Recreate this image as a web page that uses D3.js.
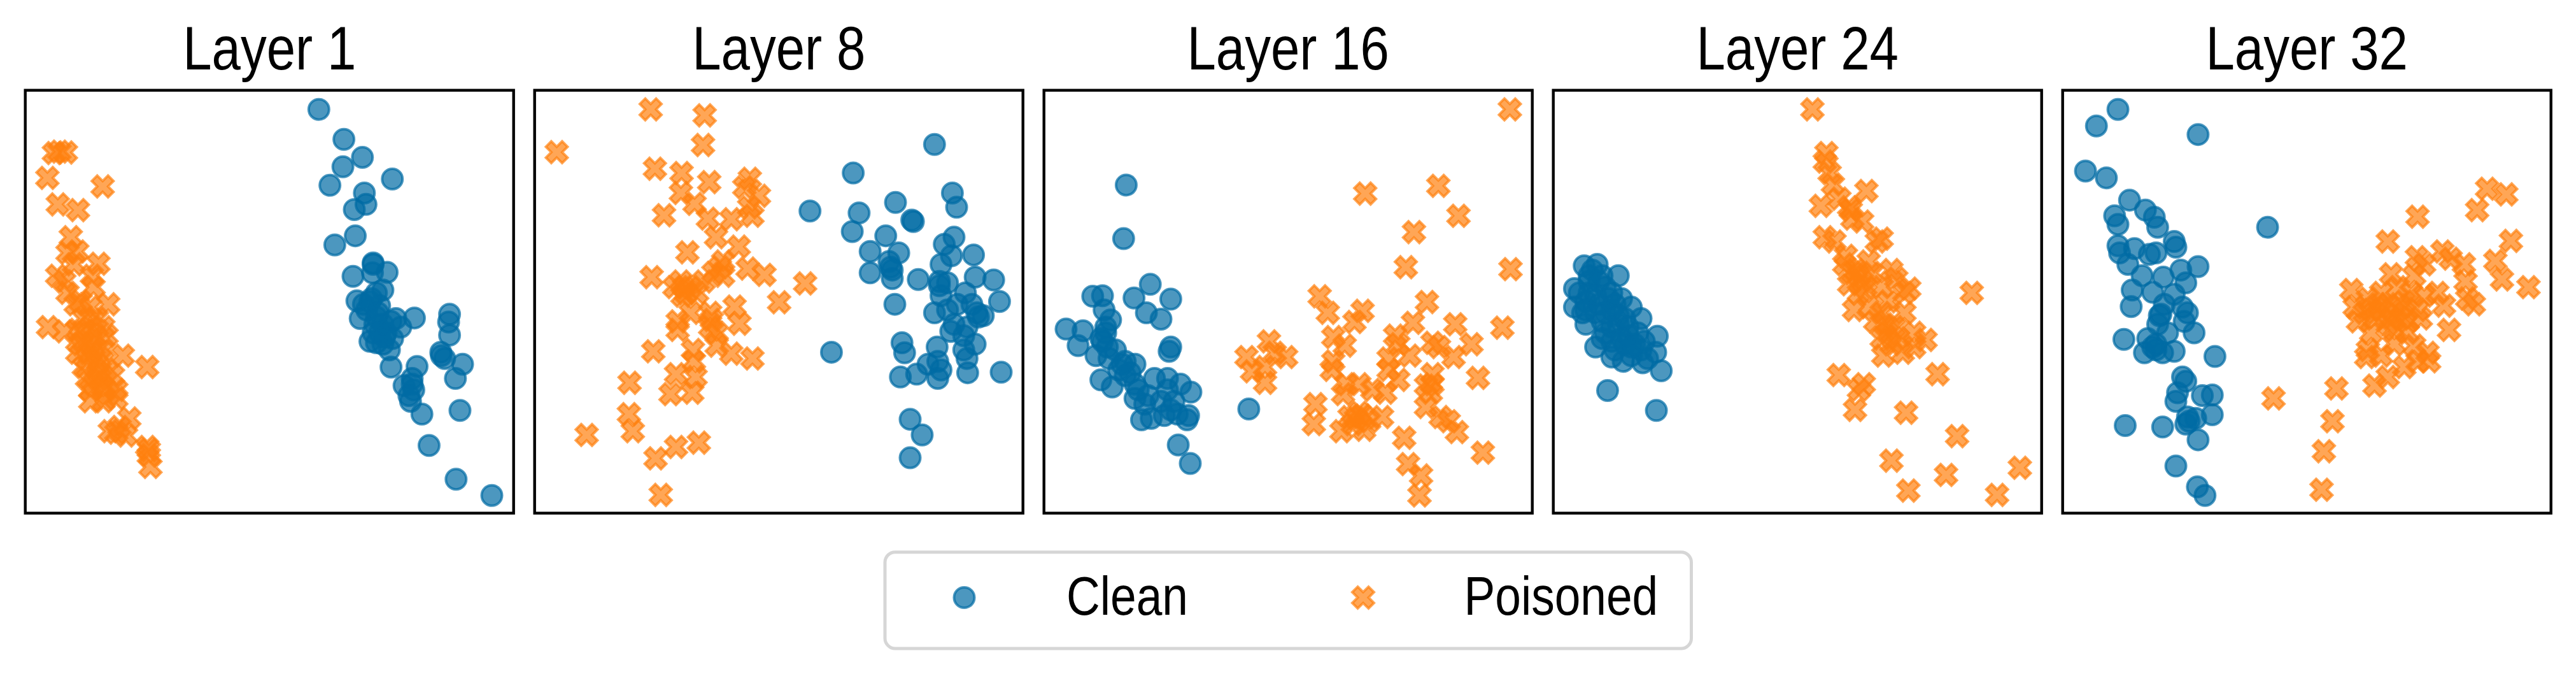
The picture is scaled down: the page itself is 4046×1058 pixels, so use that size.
<!DOCTYPE html>
<html>
<head>
<meta charset="utf-8">
<script src="https://cdn.jsdelivr.net/npm/d3@7"></script>
<style>
  html, body { margin: 0; padding: 0; background: #ffffff; }
  svg { display: block; }
</style>
</head>
<body>
<div id="chart"></div>
<script>
// ---------------- DATA (2-D projection coordinates, y grows downward) ----------------
const layerTitles = ["Layer 1", "Layer 8", "Layer 16", "Layer 24", "Layer 32"];
const seriesNames = ["Clean", "Poisoned"];
// autoscaled axis limits of each panel
const xLimits = [[20, 1522], [20, 1522], [20, 1522], [20, 1522], [18, 1493]];
const yLimits = [[50, 1532], [50, 1532], [50, 1532], [50, 1532], [50, 1532]];

const layer1Clean = [[923,117],[1000,222],[1057,285],[997,318],[1149,361],[957,383],[1063,410],[1068,450],[1032,468],[1035,560],[972,592],[1090,655],[1133,688],[1028,702],[1088,690],[1120,750],[1040,788],[1085,780],[1110,805],[1050,850],[1100,845],[1145,860],[1175,880],[1217,848],[1080,930],[1120,940],[1140,960],[1145,1020],[1110,900],[1325,835],[1322,862],[1325,908],[1298,968],[1310,990],[1365,1010],[1343,1060],[1225,1018],[1210,1060],[1185,1085],[1215,1100],[1205,1140],[1240,1185],[1357,1172],[1262,1295],[1345,1413],[1455,1470],[1070,820],[1095,870],[1130,900],[1060,800],[1100,760],[1150,920],[1090,900],[1120,870],[1160,850],[1090,660],[1080,790],[1105,830],[1125,915],[1100,935],[1210,1080],[1200,1120],[1300,980]];
const layer1Poisoned = [[108,270],[145,268],[125,265],[88,357],[258,387],[120,450],[182,470],[160,565],[150,620],[180,615],[245,658],[170,660],[118,700],[140,720],[225,700],[150,760],[230,740],[190,790],[275,800],[175,800],[220,810],[90,880],[140,895],[180,890],[220,880],[260,880],[200,930],[240,920],[270,910],[320,980],[180,970],[220,970],[260,960],[395,1020],[200,1020],[240,1010],[270,1030],[210,1060],[250,1060],[290,1050],[220,1100],[260,1090],[300,1100],[220,1140],[260,1140],[300,1130],[340,1200],[300,1250],[330,1260],[395,1300],[400,1330],[405,1370],[280,1245],[200,850],[240,850],[200,900],[230,950],[210,990],[245,1040],[230,1080],[275,1115],[190,940],[250,990],[400,1310],[310,1230]];

const layer8Clean = [[1250,240],[1000,340],[867,473],[1130,443],[1018,480],[1305,410],[1318,460],[1185,510],[1180,505],[997,545],[1100,560],[1052,615],[1140,620],[1110,650],[1120,680],[1052,690],[1120,710],[1310,565],[1280,590],[1302,630],[1370,627],[1270,660],[1200,713],[1265,720],[1290,725],[1375,705],[1432,715],[1345,760],[1270,770],[1450,790],[1128,800],[1250,830],[1290,820],[1320,800],[1380,830],[1400,840],[1365,800],[1300,895],[1350,880],[1340,910],[1375,940],[1150,935],[1158,970],[1258,950],[1340,960],[1350,990],[933,968],[1230,1010],[1145,1055],[1195,1045],[1270,1030],[1260,1060],[1352,1040],[1455,1038],[1175,1203],[1212,1258],[1175,1338],[1310,870],[1260,1000],[1265,735],[1385,845],[1115,670]];
const layer8Poisoned = [[377,117],[543,138],[538,242],[88,267],[390,325],[472,340],[557,372],[682,360],[665,390],[710,420],[470,410],[512,448],[418,488],[553,500],[625,502],[690,490],[680,460],[578,565],[648,598],[490,618],[600,650],[570,690],[675,675],[727,697],[380,705],[470,720],[500,740],[540,720],[600,700],[852,727],[475,770],[520,760],[772,793],[560,830],[635,808],[650,868],[460,860],[500,830],[560,880],[580,900],[460,890],[385,965],[507,960],[580,945],[625,973],[690,990],[510,1000],[312,1075],[455,1045],[515,1055],[438,1115],[505,1110],[310,1185],[322,1245],[180,1258],[455,1300],[525,1285],[392,1340],[408,1468],[480,740],[450,740],[485,760],[565,855],[590,670]];

const layer16Clean = [[273,382],[265,570],[347,730],[170,772],[200,770],[297,778],[410,782],[205,820],[335,830],[380,852],[225,855],[88,887],[140,893],[210,880],[125,945],[200,930],[240,960],[180,980],[410,950],[405,965],[270,1000],[300,1010],[195,1065],[230,1090],[270,1050],[300,1080],[360,1060],[400,1060],[440,1080],[472,1108],[300,1130],[340,1120],[380,1140],[420,1140],[320,1205],[350,1200],[390,1190],[430,1185],[465,1190],[460,1205],[650,1167],[433,1293],[470,1358],[330,1150],[250,1030],[220,990],[210,900],[285,1040],[215,950],[260,1010],[310,1100],[400,1100],[410,1170],[195,920]];
const layer16Poisoned = [[1453,117],[1008,412],[1233,385],[1295,490],[1158,547],[1133,670],[1455,677],[868,772],[1198,792],[893,830],[1000,823],[975,862],[1155,865],[1285,870],[1430,882],[910,915],[945,945],[1100,910],[1110,940],[1215,935],[1235,950],[1335,940],[712,930],[643,985],[730,970],[765,985],[700,1020],[660,1035],[700,1075],[910,1000],[905,1030],[1080,990],[1145,980],[1280,985],[1080,1030],[1110,1065],[1355,1058],[1215,1045],[950,1080],[990,1080],[1030,1100],[1070,1110],[1195,1085],[1210,1110],[940,1115],[855,1150],[1195,1160],[990,1180],[960,1195],[1020,1210],[1060,1195],[1240,1195],[1265,1210],[1290,1248],[850,1220],[935,1245],[1005,1240],[1128,1268],[1370,1320],[1140,1360],[1180,1400],[1175,1470],[970,1220],[980,1200],[1000,1190],[1215,1080]];

const layer24Clean = [[115,665],[155,660],[220,700],[85,745],[130,720],[180,740],[230,780],[260,810],[85,810],[120,790],[160,800],[200,820],[290,850],[120,870],[170,860],[220,870],[280,900],[340,912],[150,950],[200,930],[240,940],[290,960],[335,968],[200,985],[235,1000],[295,1005],[352,1033],[187,1102],[337,1172],[100,760],[140,680],[180,900],[250,910],[310,990],[260,980],[150,830],[110,830],[200,760],[240,850],[170,700],[130,700],[160,720],[190,780],[150,770],[210,800],[180,830],[220,840],[200,880],[250,880],[230,920],[270,940],[210,960],[260,950],[300,930],[130,760],[170,920],[120,820]];
const layer24Poisoned = [[817,117],[860,270],[855,300],[870,340],[880,380],[983,403],[843,455],[900,430],[930,460],[940,500],[970,510],[1030,570],[1015,580],[855,565],[885,580],[920,630],[915,660],[990,650],[940,690],[960,700],[1000,690],[1060,680],[930,730],[980,740],[1030,740],[1075,710],[1115,745],[1100,760],[1050,790],[1307,760],[945,820],[990,810],[1030,830],[1100,830],[1040,870],[1070,880],[1130,900],[1165,925],[1030,920],[1080,920],[1035,980],[1095,970],[1130,950],[898,1048],[975,1080],[960,1100],[1202,1045],[948,1170],[1105,1180],[1262,1262],[1060,1348],[1228,1398],[1455,1373],[1112,1453],[1385,1468],[1010,860],[960,760],[935,470],[950,680],[970,720],[1050,900],[1060,940]];

const layer32Clean = [[185,117],[120,175],[427,205],[87,333],[150,357],[220,435],[268,470],[175,490],[185,520],[295,495],[305,530],[355,580],[360,600],[185,595],[190,620],[235,605],[280,625],[300,620],[215,660],[427,668],[375,680],[258,700],[322,705],[390,725],[228,750],[290,758],[355,765],[225,808],[325,800],[380,810],[395,830],[310,840],[305,870],[385,860],[415,900],[335,900],[203,923],[275,920],[265,970],[300,960],[320,970],[355,965],[478,983],[380,1055],[390,1070],[365,1110],[360,1140],[440,1120],[470,1118],[470,1187],[395,1195],[390,1220],[420,1200],[207,1225],[320,1230],[427,1275],[360,1367],[425,1440],[448,1470],[637,530],[300,940],[290,950],[315,835],[400,1210]];
const layer32Poisoned = [[1300,395],[1358,415],[1270,470],[1090,493],[1000,580],[1372,578],[1088,635],[1165,615],[1190,640],[1230,660],[1325,648],[1110,660],[1010,695],[1080,700],[1235,720],[1345,713],[1425,740],[890,750],[940,780],[980,760],[1030,740],[1070,760],[1110,770],[1150,760],[1240,780],[1260,800],[1170,805],[900,810],[950,820],[1000,800],[1040,810],[1090,820],[910,860],[960,850],[1010,850],[1060,860],[1100,850],[1185,890],[950,900],[1020,890],[1060,900],[940,960],[980,980],[1020,940],[1080,945],[1120,970],[1090,1000],[1125,1000],[935,985],[1000,1055],[960,1085],[845,1095],[655,1130],[833,1210],[807,1315],[800,1450],[1050,1020],[980,820],[1020,830],[1050,790],[930,830],[1000,870],[1040,850],[970,800]];

const cleanSeries = [layer1Clean, layer8Clean, layer16Clean, layer24Clean, layer32Clean];
const poisonedSeries = [layer1Poisoned, layer8Poisoned, layer16Poisoned, layer24Poisoned, layer32Poisoned];

// ---------------- LAYOUT / STYLE ----------------
const W = 4046, H = 1058;
const panelLeft0 = 39.7, panelStep = 800, panelW = 767;
const panelTop = 141.7, panelBottom = 805.5;
const BLUE = "#006BA4", ORANGE = "#FF800E";
const ALPHA = 0.7;
const circleR = 16, strokeW = 4;
const xUnit = 8.5;
const FONT = "'Liberation Sans', Arial, sans-serif";
const textScaleX = 0.85;

const svg = d3.select("#chart").append("svg")
  .attr("width", W).attr("height", H)
  .attr("viewBox", `0 0 ${W} ${H}`);
svg.append("rect").attr("width", W).attr("height", H).attr("fill", "#fff");

// filled 'X' marker (matplotlib style)
const xPts = [[-1,-2],[0,-1],[1,-2],[2,-1],[1,0],[2,1],[1,2],[0,1],[-1,2],[-2,1],[-1,0],[-2,-1]];
const xPath = d3.line()(xPts.map(p => [p[0]*xUnit, p[1]*xUnit])) + "Z";

const defs = svg.append("defs");

layerTitles.forEach((title, i) => {
  const left = panelLeft0 + panelStep * i;
  const right = left + panelW;
  const x = d3.scaleLinear().domain(xLimits[i]).range([left, right]);
  const y = d3.scaleLinear().domain(yLimits[i]).range([panelTop, panelBottom]);

  defs.append("clipPath").attr("id", "clip" + i)
    .append("rect").attr("x", left).attr("y", panelTop)
    .attr("width", right - left).attr("height", panelBottom - panelTop);

  const g = svg.append("g").attr("clip-path", `url(#clip${i})`);

  g.append("g").selectAll("circle").data(cleanSeries[i]).join("circle")
    .attr("cx", d => x(d[0])).attr("cy", d => y(d[1])).attr("r", circleR)
    .attr("fill", BLUE).attr("fill-opacity", ALPHA)
    .attr("stroke", BLUE).attr("stroke-opacity", ALPHA).attr("stroke-width", strokeW);

  g.append("g").selectAll("path").data(poisonedSeries[i]).join("path")
    .attr("d", xPath)
    .attr("transform", d => `translate(${x(d[0])},${y(d[1])})`)
    .attr("fill", ORANGE).attr("fill-opacity", ALPHA)
    .attr("stroke", ORANGE).attr("stroke-opacity", ALPHA).attr("stroke-width", strokeW)
    .attr("stroke-linejoin", "miter");

  // frame
  svg.append("rect")
    .attr("x", left).attr("y", panelTop)
    .attr("width", right - left).attr("height", panelBottom - panelTop)
    .attr("fill", "none").attr("stroke", "#000").attr("stroke-width", 4.4);

  // title
  svg.append("text")
    .attr("transform", `translate(${(left + right) / 2},109.3) scale(${textScaleX},1)`)
    .attr("text-anchor", "middle")
    .attr("font-family", FONT).attr("font-size", 96)
    .attr("fill", "#000")
    .text(title);
});

// ---------------- LEGEND ----------------
const legend = svg.append("g");
legend.append("rect")
  .attr("x", 1390).attr("y", 866.7).attr("width", 2656.5 - 1390).attr("height", 1018 - 866.7)
  .attr("rx", 16).attr("ry", 16)
  .attr("fill", "#fff").attr("stroke", "#d6d6d6").attr("stroke-width", 5);

const legendItems = [
  { name: seriesNames[0], mx: 1514.5, tx: 1675, kind: "circle" },
  { name: seriesNames[1], mx: 2141, tx: 2299.5, kind: "x" }
];
const legendY = 938;
legendItems.forEach(it => {
  if (it.kind === "circle") {
    legend.append("circle").attr("cx", it.mx).attr("cy", legendY).attr("r", circleR)
      .attr("fill", BLUE).attr("fill-opacity", ALPHA)
      .attr("stroke", BLUE).attr("stroke-opacity", ALPHA).attr("stroke-width", strokeW);
  } else {
    legend.append("path").attr("d", xPath)
      .attr("transform", `translate(${it.mx},${legendY})`)
      .attr("fill", ORANGE).attr("fill-opacity", ALPHA)
      .attr("stroke", ORANGE).attr("stroke-opacity", ALPHA).attr("stroke-width", strokeW);
  }
  legend.append("text")
    .attr("transform", `translate(${it.tx},965) scale(${textScaleX},1)`)
    .attr("font-family", FONT).attr("font-size", 86)
    .attr("fill", "#000")
    .text(it.name);
});
</script>
</body>
</html>
